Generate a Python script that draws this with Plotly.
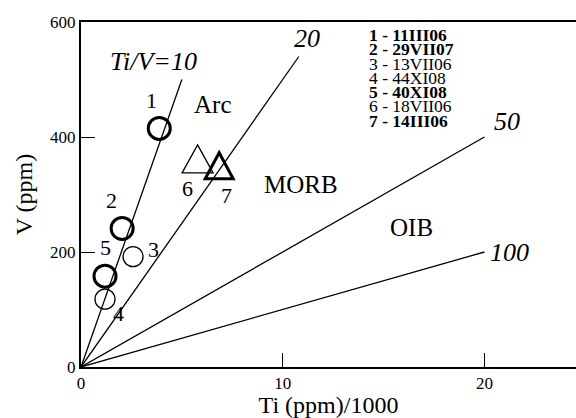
import plotly.graph_objects as go

# ---------------- data ----------------
ratios = [10, 20, 50, 100]                      # Ti/V reference lines
ratio_labels = ["Ti/V=10", "20", "50", "100"]
line_end_ti = [5, 10.8, 20, 20]                 # Ti(ppm)/1000 where each line stops

sample_ids = ["1", "2", "3", "4", "5", "6", "7"]
sample_names = ["11III06", "29VII07", "13VII06", "44XI08", "40XI08", "18VII06", "14III06"]
sample_bold = [True, True, False, False, True, False, True]
sample_kind = ["circle", "circle", "circle", "circle", "circle", "triangle", "triangle"]
sample_ti = [3.88, 2.04, 2.58, 1.19, 1.19, 5.78, 6.85]
sample_v = [415, 241, 192, 118, 158, 362, 350]

field_names = ["Arc", "MORB", "OIB"]
field_ti = [6.5, 10.9, 16.4]
field_v = [456, 318, 243]

x_ticks = [0, 10, 20]
y_ticks = [0, 200, 400, 600]

# ---------------- style ----------------
FONT = "Liberation Serif, Times New Roman, serif"
label_shift = {  # pixel offsets (dx, dy up) of the number labels
    "1": (-8, 28), "2": (-11, 28), "3": (20, 7), "4": (13, -14),
    "5": (0, 29), "6": (-10, -30), "7": (7, -30),
}
ratio_shift = [(-28, 18), (8, 18), (23, 16), (25, 0)]

fig = go.Figure()

# reference lines through the origin
for r, xe in zip(ratios, line_end_ti):
    fig.add_trace(go.Scatter(
        x=[0, xe], y=[0, xe * 1000 / r], mode="lines",
        line=dict(color="black", width=1.3), hoverinfo="skip", showlegend=False))

# sample symbols
for sid, kind, b, xv, yv in zip(sample_ids, sample_kind, sample_bold, sample_ti, sample_v):
    if kind == "circle":
        fig.add_trace(go.Scatter(
            x=[xv], y=[yv], mode="markers", showlegend=False,
            marker=dict(symbol="circle-open", size=22 if b else 20, color="black",
                        line=dict(color="black", width=3 if b else 1.3))))
    else:
        # triangles drawn as pixel-sized paths anchored at the data point
        w, h = (14, 13) if b else (15.5, 14)
        fig.add_shape(type="path", xref="x", yref="y", xsizemode="pixel", ysizemode="pixel",
                      xanchor=xv, yanchor=yv,
                      path=f"M {-w} {-h} L {w} {-h} L 0 {h} Z",
                      line=dict(color="black", width=3 if b else 1.3))
        fig.add_trace(go.Scatter(x=[xv], y=[yv], mode="markers", showlegend=False,
                                 marker=dict(size=1, opacity=0), hoverinfo="skip"))

# number labels near samples
for sid, xv, yv in zip(sample_ids, sample_ti, sample_v):
    dx, dy = label_shift[sid]
    fig.add_annotation(x=xv, y=yv, xref="x", yref="y", text=sid, showarrow=False,
                       xshift=dx, yshift=dy, font=dict(family=FONT, size=22, color="black"))

# ratio labels at line ends
for r, xe, lab, (dx, dy) in zip(ratios, line_end_ti, ratio_labels, ratio_shift):
    fig.add_annotation(x=xe, y=xe * 1000 / r, xref="x", yref="y", text=f"<i>{lab}</i>",
                       showarrow=False, xshift=dx, yshift=dy,
                       font=dict(family=FONT, size=26, color="black"))

# field labels
for name, xv, yv in zip(field_names, field_ti, field_v):
    fig.add_annotation(x=xv, y=yv, xref="x", yref="y", text=name, showarrow=False,
                       font=dict(family=FONT, size=25, color="black"))

# sample key (top right)
for i, (sid, nm, b) in enumerate(zip(sample_ids, sample_names, sample_bold)):
    txt = f"{sid} - {nm}"
    if b:
        txt = f"<b>{txt}</b>"
    fig.add_annotation(x=(366.7 - 81) / 495, y=(366 - (34 + 14.3 * i)) / 345,
                       xref="paper", yref="paper", xanchor="left", yanchor="middle",
                       text=txt, showarrow=False,
                       font=dict(family=FONT, size=17.5, color="black"))

fig.update_layout(
    width=576, height=418,
    margin=dict(l=81, r=0, t=22, b=51),
    paper_bgcolor="white", plot_bgcolor="white",
    font=dict(family=FONT, size=18, color="black"),
    showlegend=False,
    xaxis=dict(range=[0, 24.54], tickvals=x_ticks, ticks="inside", ticklen=14,
               tickwidth=1.3, tickcolor="black", showline=True, linewidth=2,
               linecolor="black", mirror=True, showgrid=False, zeroline=False,
               tickfont=dict(family=FONT, size=17),
               title=dict(text="Ti (ppm)/1000", font=dict(family=FONT, size=24), standoff=4)),
    yaxis=dict(range=[0, 600], tickvals=y_ticks, ticks="inside", ticklen=14,
               tickwidth=1.3, tickcolor="black", showline=True, linewidth=2,
               linecolor="black", showgrid=False, zeroline=False,
               tickfont=dict(family=FONT, size=17),
               title=dict(text="V (ppm)", font=dict(family=FONT, size=24), standoff=11)),
)

fig.write_html("out.html")
